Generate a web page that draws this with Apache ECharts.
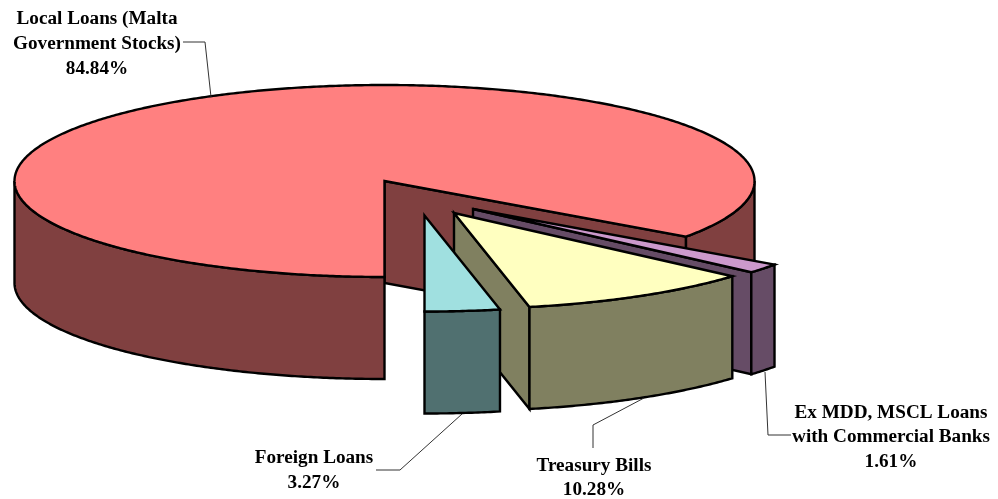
<!DOCTYPE html>
<html><head><meta charset="utf-8">
<style>html,body{margin:0;padding:0;background:#fff}#c{width:998px;height:499px}</style>
<script src="https://cdn.jsdelivr.net/npm/echarts@6/dist/echarts.min.js"></script>
</head><body><div id="c"></div>
<script>
const categories = ['Local Loans (Malta\nGovernment Stocks)', 'Ex MDD, MSCL Loans\nwith Commercial Banks', 'Treasury Bills', 'Foreign Loans'];
const shares = [84.84, 1.61, 10.28, 3.27];
const tickLabels = ['84.84%', '1.61%', '10.28%', '3.27%'];

const topColors = ['#FF8080', '#CC99CC', '#FFFFC0', '#A0E0E0'];
const sideColors = ['#804040', '#664C66', '#808060', '#507070'];
const apexes = [[384.5, 181], [473, 209], [454, 213], [424.5, 215.5]];
const labelCentres = [[97, 44], [891, 437.5], [594, 478], [314, 470.5]];
const leaders = [
  [[183, 42], [205, 42], [211, 97]],
  [[765, 372], [768, 435], [791, 435]],
  [[593, 448], [593, 425], [644, 398]],
  [[376, 470], [400, 470], [462, 414]]
];
const RX = 370, RY = 96, DEPTH = 102, START = 180;
const total = shares.reduce((a, b) => a + b, 0);

function pt(apex, deg, dz) {
  const r = deg * Math.PI / 180;
  return [apex[0] + RX * Math.sin(r), apex[1] - RY * Math.cos(r) + (dz || 0)];
}
function arc(apex, a0, a1, dz) {
  const out = [], n = Math.max(2, Math.ceil(Math.abs(a1 - a0) * 2));
  for (let i = 0; i <= n; i++) out.push(pt(apex, a0 + (a1 - a0) * i / n, dz));
  return out;
}
const edge = { stroke: '#000', lineWidth: 2.4, lineJoin: 'miter', miterLimit: 4 };

function renderItem(params, api) {
  const i = params.dataIndex;
  let before = 0;
  for (let k = 0; k < i; k++) before += shares[k];
  const a0 = START + before / total * 360;
  const a1 = a0 + api.value(0) / total * 360;
  const apex = apexes[i];
  const side = sideColors[i];
  const kids = [];
  const poly = (points, fill) => kids.push({ type: 'polygon', shape: { points }, style: Object.assign({ fill }, edge) });

  // cut face at the end of the sweep, when it faces the viewer
  const endMod = ((a1 % 360) + 360) % 360;
  if (endMod > 0 && endMod < 180) {
    const e = pt(apex, a1);
    poly([apex, e, [e[0], e[1] + DEPTH], [apex[0], apex[1] + DEPTH]], side);
  }
  // outer rim: only the front half (90..270 degrees) can be seen
  [0, 360].forEach(shift => {
    const lo = Math.max(a0, 90 + shift), hi = Math.min(a1, 270 + shift);
    if (hi > lo) poly(arc(apex, lo, hi, 0).concat(arc(apex, hi, lo, DEPTH)), side);
  });
  // top face
  poly([apex].concat(arc(apex, a0, a1, 0)), topColors[i]);
  // leader line and label
  kids.push({ type: 'polyline', shape: { points: leaders[i] }, style: { fill: 'none', stroke: '#333', lineWidth: 1 } });
  kids.push({
    type: 'text', x: labelCentres[i][0], y: labelCentres[i][1],
    style: {
      text: categories[i] + '\n' + tickLabels[i],
      font: 'bold 19.2px "Liberation Serif", "Times New Roman", serif',
      fill: '#000', align: 'center', verticalAlign: 'middle', lineHeight: 24.7
    }
  });
  return { type: 'group', children: kids };
}

const chart = echarts.init(document.getElementById('c'), null, { renderer: 'canvas' });
chart.setOption({
  animation: false,
  backgroundColor: '#fff',
  series: [{
    type: 'custom',
    coordinateSystem: 'none',
    renderItem,
    data: shares.map((v, i) => ({ name: categories[i], value: [v] }))
  }]
});
</script></body></html>
